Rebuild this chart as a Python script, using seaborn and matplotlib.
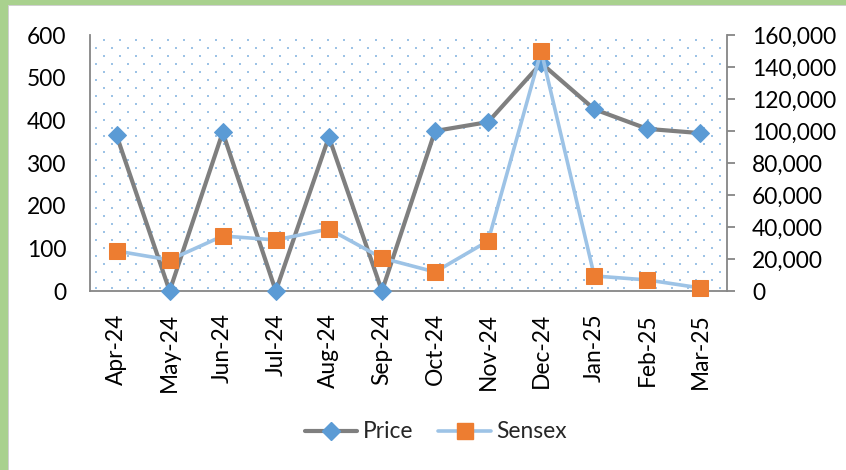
import numpy as np
import pandas as pd
import matplotlib
matplotlib.use("Agg")
import matplotlib.pyplot as plt
from matplotlib.patches import Rectangle
from matplotlib.lines import Line2D
import seaborn as sns

months = ["Apr-24", "May-24", "Jun-24", "Jul-24", "Aug-24", "Sep-24",
          "Oct-24", "Nov-24", "Dec-24", "Jan-25", "Feb-25", "Mar-25"]
price = [365, 0, 372, 0, 361, 0, 375, 396, 534, 426, 380, 370]
sensex = [25000, 19400, 34400, 31900, 38750, 20600, 11900, 31250,
          150000, 9400, 6900, 1900]
price_ticks = [0, 100, 200, 300, 400, 500, 600]
sensex_ticks = [0, 20000, 40000, 60000, 80000, 100000, 120000, 140000, 160000]

sns.set_theme(style="white")
plt.rcParams["font.family"] = ["Lato", "DejaVu Sans"]

W, H = 846, 470
fig = plt.figure(figsize=(W / 100, H / 100), dpi=100)
fig.patch.set_facecolor("white")

# green frame on the left and top edges
green = "#A9D18E"
fig.add_artist(Rectangle((0, 0), 8 / W, 1, transform=fig.transFigure,
                         facecolor=green, edgecolor="none", zorder=0))
fig.add_artist(Rectangle((0, 1 - 5 / H), 1, 5 / H, transform=fig.transFigure,
                         facecolor=green, edgecolor="none", zorder=0))
fig.add_artist(Rectangle((8 / W, 0), 1.2 / W, 1 - 5 / H, transform=fig.transFigure,
                         facecolor="#D0D0D0", edgecolor="none", zorder=0))
fig.add_artist(Rectangle((8 / W, 1 - 6.2 / H), 1, 1.2 / H, transform=fig.transFigure,
                         facecolor="#D0D0D0", edgecolor="none", zorder=0))

L, T, R, B = 90, 35, 727, 291
ax = fig.add_axes([L / W, 1 - B / H, (R - L) / W, (B - T) / H])
ax2 = ax.twinx()

# dotted fill of the plot area
dx, dy = [], []
row = 0
y = B - 3.5
while y > T:
    x0 = L + 6 + (8 if row % 2 else 0)
    x = x0
    while x < R - 2:
        dx.append((x - L) / (R - L))
        dy.append((B - y) / (B - T))
        x += 16
    y -= 8
    row += 1
ax.scatter(dx, dy, s=4.0, marker="s", color="#9DC3E6", linewidths=0,
           transform=ax.transAxes, zorder=0)

xpos = np.arange(len(months))
df = pd.DataFrame({"pos": xpos, "Price": price, "Sensex": sensex})

price_style = dict(color="#7F7F7F", lw=3.0, marker="D", markersize=9.5,
                   markerfacecolor="#5B9BD5", markeredgecolor="#5B9BD5")
sensex_style = dict(color="#9DC3E6", lw=2.6, marker="s", markersize=12,
                    markerfacecolor="#ED7D31", markeredgecolor="#ED7D31")

sns.lineplot(data=df, x="pos", y="Price", ax=ax, zorder=3, legend=False,
             clip_on=False, **price_style)
sns.lineplot(data=df, x="pos", y="Sensex", ax=ax2, zorder=3, legend=False,
             clip_on=False, **sensex_style)

ax.set_xlim(-0.5, len(months) - 0.5)
ax.set_ylim(0, 600)
ax2.set_ylim(0, 160000)
ax.set_xticks(xpos)
ax.set_xticklabels(months, rotation=90)
ax.set_yticks(price_ticks)
ax.set_yticklabels([str(v) for v in price_ticks])
ax2.set_yticks(sensex_ticks)
ax2.set_yticklabels([f"{v:,}" for v in sensex_ticks])
ax.set_xlabel("")
ax.set_ylabel("")
ax2.set_ylabel("")

spine_c = "#868686"
for a in (ax, ax2):
    a.set_facecolor("none")
    for s in a.spines.values():
        s.set_visible(False)
ax.spines["left"].set_visible(True)
ax.spines["bottom"].set_visible(True)
ax2.spines["right"].set_visible(True)
for s in (ax.spines["left"], ax.spines["bottom"], ax2.spines["right"]):
    s.set_color(spine_c)
    s.set_linewidth(1.3)
    s.set_zorder(1)

fs = 16.4
ax.tick_params(axis="y", length=0, pad=17, labelsize=fs, labelcolor="black")
ax.tick_params(axis="x", length=0, pad=16, labelsize=fs, labelcolor="black")
ax2.tick_params(axis="y", which="both", right=True, length=6, width=1.3,
                color=spine_c, direction="out", pad=12, labelsize=fs,
                labelcolor="black")

handles = [Line2D([], [], **price_style), Line2D([], [], **sensex_style)]
fig.legend(handles, ["Price", "Sensex"], loc="center",
           bbox_to_anchor=(436 / W, 1 - 432 / H), ncol=2, frameon=False,
           fontsize=fs, handlelength=2.3, handletextpad=0.25, columnspacing=1.1)

fig.savefig("out.png", dpi=100, facecolor="white")
